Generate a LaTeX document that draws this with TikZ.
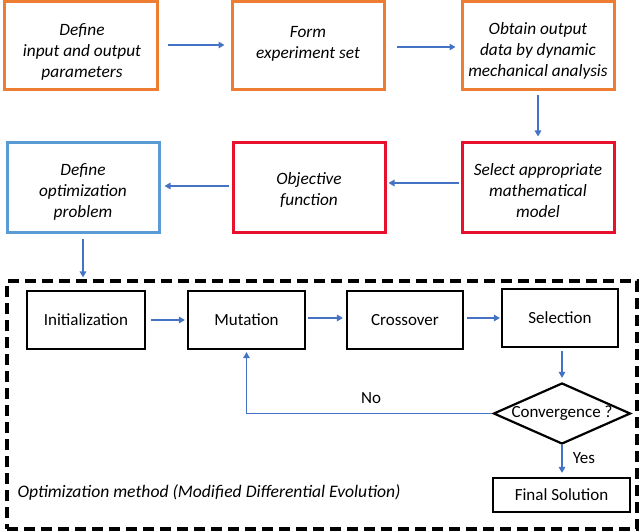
\documentclass[tikz,border=0pt]{standalone}
\usepackage{fontspec}
\setmainfont{Carlito}
\usetikzlibrary{arrows.meta,shapes.geometric}
\definecolor{orng}{HTML}{ED7D31}
\definecolor{redb}{RGB}{232,17,45}
\definecolor{blueb}{HTML}{5B9BD5}
\definecolor{arrblue}{HTML}{4472C4}
\tikzset{
  box/.style={draw, rectangle, inner sep=0pt},
  btxt/.style={align=center, inner sep=0pt, font=\fontsize{17.3}{21}\selectfont\itshape},
  obox/.style={box, draw=orng, line width=3pt},
  rbox/.style={box, draw=redb, line width=3pt},
  bbox/.style={box, draw=blueb, line width=3pt},
  kbox/.style={draw=black, rectangle, line width=2.2pt, inner sep=0pt, align=center, font=\fontsize{17}{21}\selectfont},
  arr/.style={draw=arrblue, line width=1.8pt, -{Triangle[length=6pt,width=6.5pt]}},
  lbl/.style={font=\fontsize{17}{21}\selectfont}
}
\begin{document}
\begin{tikzpicture}[x=1pt,y=-1pt]
\useasboundingbox (0,0) rectangle (640,532);
% top row
\node[obox, minimum width=153pt, minimum height=88pt] (b1) at (80.5,46) {};
\node[btxt] (b1t) at (82,52) {Define\\input and output\\parameters};
\node[obox, minimum width=152pt, minimum height=88pt] (b2) at (308,46) {};
\node[btxt] (b2t) at (308,44) {Form\\experiment set};
\node[obox, minimum width=152pt, minimum height=88pt] (b3) at (538,46) {};
\node[btxt] (b3t) at (538,51) {Obtain output\\data by dynamic\\mechanical analysis};
% second row
\node[bbox, minimum width=152pt, minimum height=89pt] (b4) at (83,187.5) {};
\node[btxt] (b4t) at (83,191.5) {Define\\optimization\\problem};
\node[rbox, minimum width=152pt, minimum height=89pt] (b5) at (309,187.5) {};
\node[btxt] (b5t) at (309,190.5) {Objective\\function};
\node[rbox, minimum width=152pt, minimum height=89pt] (b6) at (538,187.5) {};
\node[btxt] (b6t) at (538,190.5) {Select appropriate\\mathematical\\model};
% dashed frame
\node[draw=black, line width=3.2pt, dash pattern=on 11pt off 6pt, rectangle, inner sep=0pt, minimum width=630pt, minimum height=248pt] (frame) at (322,405) {};
% DE boxes
\node[kbox, minimum width=118pt, minimum height=58pt] (init) at (86,320) {Initialization};
\node[kbox, minimum width=117pt, minimum height=58pt] (mut) at (246.5,320) {Mutation};
\node[kbox, minimum width=116pt, minimum height=58pt] (cross) at (405,320) {Crossover};
\node[kbox, minimum width=116pt, minimum height=58pt] (sel) at (560,318) {Selection};
\node[draw=black, line width=2.2pt, diamond, inner sep=0pt, minimum width=137pt, minimum height=61pt] (dia) at (562,413.5) {};
\node[lbl] (diat) at (dia.center) {Convergence ?};
\node[kbox, minimum width=137pt, minimum height=34pt] (fin) at (561.5,495) {Final Solution};
\node[anchor=west, font=\fontsize{17.6}{21}\selectfont\itshape] (cap) at (14,492) {Optimization method (Modified Differential Evolution)};
% arrows
\draw[arr, shorten <=9pt, shorten >=6pt] (b1.east |- 0,45) -- (b2.west |- 0,45);
\draw[arr, shorten <=11pt, shorten >=5pt] (b2.east |- 0,47) -- (b3.west |- 0,47);
\draw[arr, shorten <=4pt, shorten >=5pt] (b3.south) -- (b6.north);
\draw[arr, shorten <=2pt, shorten >=2pt] (b6.west |- 0,183) -- (b5.east |- 0,183);
\draw[arr, shorten <=3pt, shorten >=4pt] (b5.west |- 0,186) -- (b4.east |- 0,186);
\draw[arr, shorten <=5pt, shorten >=2pt] (b4.south) -- (frame.north -| b4.south);
\draw[arr, shorten <=5pt, shorten >=2pt] (init.east |- 0,320) -- (mut.west |- 0,320);
\draw[arr, shorten <=2pt, shorten >=3pt] (mut.east |- 0,318) -- (cross.west |- 0,318);
\draw[arr, shorten <=3pt, shorten >=1pt] (cross.east |- 0,318) -- (sel.west |- 0,318);
\draw[arr, shorten <=3pt, shorten >=4pt] (sel.south -| dia.north) -- (dia.north);
\draw[arr, shorten >=2pt] (dia.west) -- (mut.south |- dia.west) -- (mut.south);
\draw[arr, shorten >=4pt] (dia.south) -- (fin.north -| dia.south);
\node[lbl] (no) at (371,398) {No};
\node[lbl] (yes) at (584,458) {Yes};
\end{tikzpicture}
\end{document}
